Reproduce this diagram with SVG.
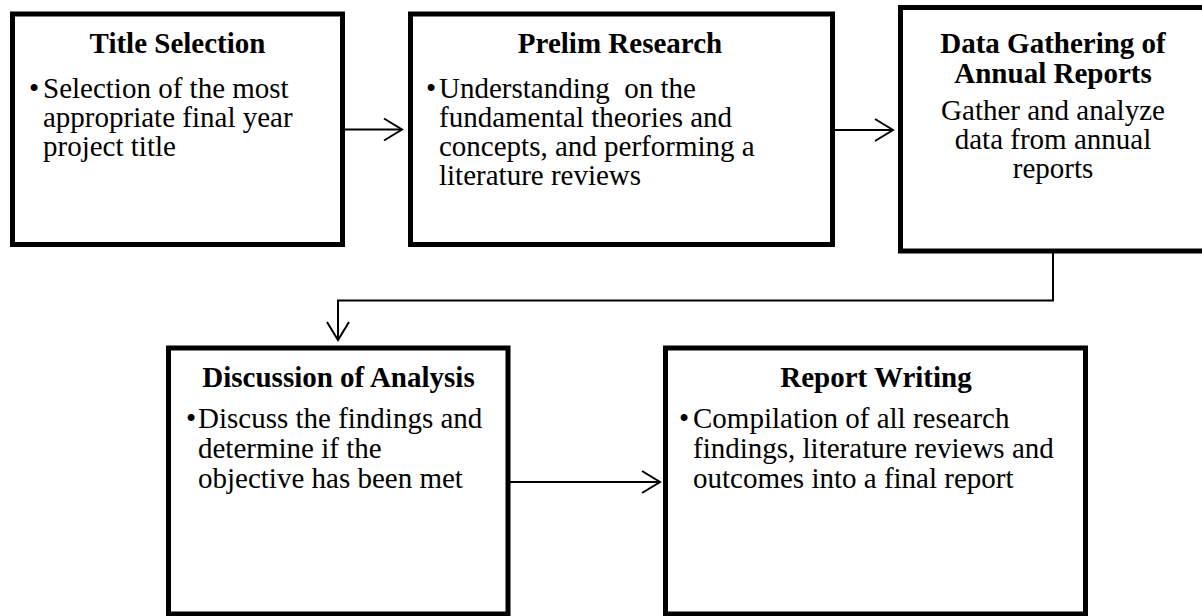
<svg xmlns="http://www.w3.org/2000/svg" width="1202" height="616" viewBox="0 0 1202 616">
  <style>
    .box { fill: #ffffff; stroke: #000000; stroke-width: 5; }
    .title { font-family: "Liberation Serif", "Times New Roman", serif; font-size: 29px; font-weight: bold; fill: #000; text-anchor: middle; }
    .body { font-family: "Liberation Serif", "Times New Roman", serif; font-size: 29px; fill: #000; }
    .center { text-anchor: middle; }
    .bullet { font-family: "Liberation Serif", "Times New Roman", serif; font-size: 29px; fill: #000; text-anchor: middle; }
    .conn { fill: none; stroke: #000; stroke-width: 2; }
  </style>
  <defs>
    <marker id="chev" markerUnits="userSpaceOnUse" markerWidth="24" markerHeight="28" viewBox="-3 -3 24 28" refX="18" refY="11" orient="auto" overflow="visible">
      <path d="M0,0 L18,11 L0,22" fill="none" stroke="#000" stroke-width="2"/>
    </marker>
  </defs>
  <rect width="1202" height="616" fill="#ffffff"/>

  <g id="connectors">
    <line class="conn" x1="345" y1="129.5" x2="402" y2="129.5" marker-end="url(#chev)"/>
    <line class="conn" x1="835" y1="130" x2="893" y2="130" marker-end="url(#chev)"/>
    <polyline class="conn" points="1053,253 1053,300.5 338,300.5 338,340" marker-end="url(#chev)"/>
    <line class="conn" x1="510" y1="482" x2="660" y2="482" marker-end="url(#chev)"/>
  </g>

  <g id="title-selection">
    <rect class="box" x="12.5" y="14" width="330" height="230.5"/>
    <text class="title" x="177.5" y="53">Title Selection</text>
    <text class="bullet" x="34" y="98">•</text>
    <text class="body" x="43" y="98">Selection of the most</text>
    <text class="body" x="43" y="127">appropriate final year</text>
    <text class="body" x="43" y="156">project title</text>
  </g>

  <g id="prelim-research">
    <rect class="box" x="410.5" y="14" width="422" height="230.5"/>
    <text class="title" x="620" y="53">Prelim Research</text>
    <text class="bullet" x="431" y="98">•</text>
    <text class="body" x="439" y="98" xml:space="preserve">Understanding  on the</text>
    <text class="body" x="439" y="127">fundamental theories and</text>
    <text class="body" x="439" y="156">concepts, and performing a</text>
    <text class="body" x="439" y="185">literature reviews</text>
  </g>

  <g id="data-gathering">
    <rect class="box" x="900.5" y="7.5" width="320" height="243.5"/>
    <text class="title" x="1053" y="53">Data Gathering of</text>
    <text class="title" x="1053" y="83">Annual Reports</text>
    <text class="body center" x="1053" y="120">Gather and analyze</text>
    <text class="body center" x="1053" y="149">data from annual</text>
    <text class="body center" x="1053" y="178">reports</text>
  </g>

  <g id="discussion-of-analysis">
    <rect class="box" x="168.5" y="348" width="339.5" height="266"/>
    <text class="title" x="338.5" y="387">Discussion of Analysis</text>
    <text class="bullet" x="191" y="428">•</text>
    <text class="body" x="198" y="428">Discuss the findings and</text>
    <text class="body" x="198" y="458">determine if the</text>
    <text class="body" x="198" y="488">objective has been met</text>
  </g>

  <g id="report-writing">
    <rect class="box" x="665.5" y="348" width="420" height="266"/>
    <text class="title" x="876" y="387">Report Writing</text>
    <text class="bullet" x="684" y="428">•</text>
    <text class="body" x="693" y="428">Compilation of all research</text>
    <text class="body" x="693" y="458">findings, literature reviews and</text>
    <text class="body" x="693" y="488">outcomes into a final report</text>
  </g>
</svg>
